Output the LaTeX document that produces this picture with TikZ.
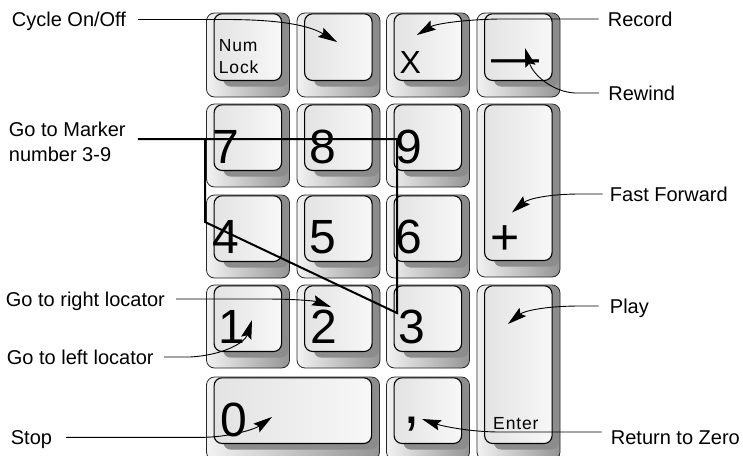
\documentclass[tikz,border=0pt]{standalone}
\usepackage{fontspec}
\setmainfont{Liberation Sans}
\usetikzlibrary{arrows.meta,calc}
\newcommand\KeyCap[5]{%
  \node[keyouter, minimum width=#4pt, minimum height=#5pt, anchor=north west] (#1) at (#2,#3) {};
  \fill[keyshade] ($(#1.north west)+(17,0.6)$) rectangle ($(#1.south east)+(-1.2,-10.5)$);
  \node[keyface, minimum width=#4pt-15.5pt, minimum height=#5pt-17.3pt, anchor=north west] (#1f) at ($(#1.north west)+(7.6,0.8)$) {};
}
\tikzset{
  keyouter/.style={draw=black!85, line width=0.8pt, rounded corners=8pt, left color=black!5, right color=black!42, inner sep=0pt, outer sep=0pt},
  keyshade/.style={fill=black!45, rounded corners=7pt},
  keyface/.style={draw=black, line width=1.1pt, rounded corners=8pt, left color=black!11, right color=black!3, inner sep=0pt, outer sep=0pt},
  digit/.style={inner sep=0pt, anchor=base west, font=\fontsize{48}{48}\selectfont},
  keytext/.style={inner sep=0pt, anchor=base west, font=\fontsize{17.5}{22}\selectfont\addfontfeature{LetterSpace=5}},
  lbl/.style={inner ysep=0pt, inner xsep=0pt, text height=14pt, text depth=0pt, anchor=base west, font=\fontsize{20}{25}\selectfont},
  conn/.style={line width=0.9pt, -{Stealth[length=19pt,width=10.5pt,inset=3pt]}},
  marker/.style={line width=2pt, line join=miter},
}
\begin{document}
\begin{tikzpicture}[x=1pt,y=-1pt]
\useasboundingbox (0,0) rectangle (743,455);
% keys
\KeyCap{knum}{206.5}{13}{83}{84}
\KeyCap{kdiv}{297}{13}{83}{84}
\KeyCap{kmul}{386.5}{13}{83}{84}
\KeyCap{kmin}{477}{13}{83}{84}
\KeyCap{k7}{206.5}{104}{83}{83}
\KeyCap{k8}{297}{104}{83}{83}
\KeyCap{k9}{386.5}{104}{83}{83}
\KeyCap{kplus}{477}{104}{83}{173}
\KeyCap{k4}{206.5}{195}{83}{83}
\KeyCap{k5}{297}{195}{83}{83}
\KeyCap{k6}{386.5}{195}{83}{83}
\KeyCap{k1}{206.5}{285}{83}{83}
\KeyCap{k2}{297}{285}{83}{83}
\KeyCap{k3}{386.5}{285}{83}{83}
\KeyCap{kent}{477}{285}{83}{175}
\KeyCap{k0}{206.5}{377}{173}{83}
\KeyCap{kdot}{386.5}{377}{83}{83}
% key legends
\node[keytext] (tnum) at (218.6,51) {\begin{tabular}[t]{@{}l@{}}Num\\Lock\end{tabular}};
\node[inner sep=0pt, anchor=base west, font=\fontsize{32}{32}\selectfont] (tx) at (399.5,73) {X};
\node[digit] (tmin) at (491,73) {—};
\node[digit] (t7) at (212.6,163) {7};
\node[digit] (t8) at (309.4,163) {8};
\node[digit] (t9) at (395.6,163) {9};
\node[inner sep=0pt, anchor=base west, font=\fontsize{50}{50}\selectfont] (tplus) at (490,254) {+};
\node[digit] (t4) at (212.4,253) {4};
\node[digit] (t5) at (309.5,253) {5};
\node[digit] (t6) at (395.6,253) {6};
\node[digit] (t1) at (218,343) {1};
\node[digit] (t2) at (310.5,343) {2};
\node[digit] (t3) at (398,343) {3};
\node[digit] (t0) at (220,436) {0};
\node[inner sep=0pt, anchor=base west, font=\fontsize{60}{60}\selectfont] (tdot) at (402.8,423) {,};
\node[keytext] (tent) at (493,429) {Enter};
% labels
\node[lbl] (lcyc) at (11.7,26.5) {Cycle On/Off};
\node[inner sep=0pt, anchor=base west, font=\fontsize{20}{25}\selectfont] (lmk) at (8.7,136.7) {\begin{tabular}[t]{@{}l@{}}Go to Marker\\number 3-9\end{tabular}};
\node[lbl] (lrl) at (5.7,306) {Go to right locator};
\node[lbl] (lll) at (6.7,364) {Go to left locator};
\node[lbl] (lstop) at (10.7,444.3) {Stop};
\node[lbl] (lrec) at (607.7,26) {Record};
\node[lbl] (lrew) at (608.2,100) {Rewind};
\node[lbl] (lff) at (609.7,201) {Fast Forward};
\node[lbl] (lplay) at (609.7,313) {Play};
\node[lbl] (lrtz) at (610.7,444) {Return to Zero};
% tips
\coordinate (tcyc) at (337,42);
\coordinate (trec) at (417,35);
\coordinate (trew) at (525,48);
\coordinate (tff) at (512,212.5);
\coordinate (tplay) at (508,324);
\coordinate (trtz) at (422,419);
\coordinate (tstop) at (272,417);
\coordinate (tll) at (252,320);
\coordinate (trl) at (331,307);
\coordinate (m1) at (397,139.2);
\coordinate (m2) at (397,313);
\coordinate (m3) at (205,222);
\coordinate (m4) at (205,139.2);
% connectors
\draw[conn] ([xshift=12pt]lcyc.east) -- (225,19.5) .. controls (283,19.5) and (310,26) .. (tcyc);
\draw[marker] ([xshift=12pt,yshift=-2.5pt]lmk.base east) -- (m1) -- (m2) -- (m3) -- (m4);
\draw[conn] ([xshift=11pt]lrl.east) -- (265,299) .. controls (295,299) and (315,301) .. (trl);
\draw[conn] ([xshift=10pt]lll.east) -- (190,357) .. controls (225,355) and (245,342) .. (tll);
\draw[conn] ([xshift=14pt]lstop.east) -- (205,437.3) .. controls (232,436.5) and (255,429) .. (tstop);
\draw[conn] ([xshift=-9pt]lrec.west) -- (500,19) .. controls (463,19.5) and (435,24) .. (trec);
\draw[conn] ([xshift=-9pt]lrew.west) -- (575,93) .. controls (553,92) and (533,75) .. (trew);
\draw[conn] ([xshift=-7pt]lff.west) -- (580,194) .. controls (548,194) and (528,199) .. (tff);
\draw[conn] ([xshift=-11pt]lplay.west) -- (580,306) .. controls (545,306) and (524,311) .. (tplay);
\draw[conn] ([xshift=-9pt,yshift=5pt]lrtz.west) -- (500,432) .. controls (470,432) and (442,426) .. (trtz);
\end{tikzpicture}
\end{document}
